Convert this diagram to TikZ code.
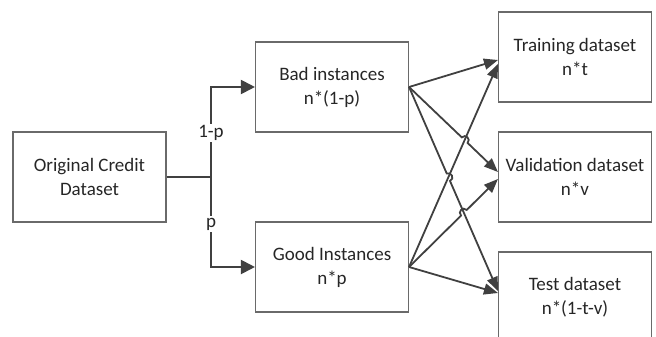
\documentclass[tikz,border=0pt]{standalone}
\usepackage{fontspec}
\setmainfont{Carlito}
\usetikzlibrary{arrows.meta,calc}
\definecolor{linegray}{HTML}{404040}
\definecolor{boxgray}{HTML}{6A6A6A}
\begin{document}
\begin{tikzpicture}[x=1pt,y=-1pt,
  box/.style={draw=boxgray, line width=1.1pt, minimum width=153pt, minimum height=90pt,
    align=center, inner sep=0pt, text=black!85, font=\fontsize{19}{24}\selectfont},
  link/.style={draw=linegray, line width=1.8pt, -{Triangle[length=14pt,width=11pt]}},
  fork/.style={draw=linegray, line width=2pt},
  lbl/.style={fill=white, inner sep=1.5pt, text=black!85, font=\fontsize{19}{24}\selectfont}]
\clip (0,0) rectangle (656,337);
% boxes
\node[box] (orig) at (89.5,177) {Original Credit\\Dataset};
\node[box] (bad) at (332,87) {Bad instances\\n*(1-p)};
\node[box] (good) at (332,267) {Good Instances\\n*p};
\node[box] (train) at (575,57) {Training dataset\\n*t};
\node[box] (valid) at (575,177) {Validation dataset\\n*v};
\node[box] (test) at (575,297) {Test dataset\\n*(1-t-v)};
% split of the original set
\coordinate (split) at (211,177);
\draw[fork] (orig.east) -- (split);
\draw[fork, -{Triangle[length=14pt,width=14pt]}] (split) |- (bad.west);
\draw[fork, -{Triangle[length=14pt,width=14pt]}] (split) |- (good.west);
\node[lbl] (lone) at (211,133) {1-p};
\node[lbl] (lp) at (211,224) {p};
% end points of the links
\coordinate (badout) at (bad.east);
\coordinate (goodout) at (good.east);
\coordinate (trA) at ($(train.west)+(0,3)$);
\coordinate (trB) at ($(train.west)+(0,7)$);
\coordinate (vaA) at ($(valid.west)+(0,-5)$);
\coordinate (vaB) at ($(valid.west)+(0,2)$);
\coordinate (teA) at ($(test.west)+(0,-6)$);
\coordinate (teB) at ($(test.west)+(0,-4)$);
% crossings with a hop
\coordinate (hA) at (intersection of badout--vaA and goodout--trB);
\coordinate (hB) at (intersection of badout--teA and goodout--trB);
\coordinate (hC) at (intersection of goodout--vaB and badout--teA);
% links without hops
\draw[link] (badout) -- (trA);
\draw[link] (goodout) -- (trB);
\draw[link] (goodout) -- (teB);
% links with hops
\draw[link] (badout) -- ($(hA)!4pt!(badout)$)
  .. controls ($($(hA)!4pt!(badout)$)!5.3pt!90:(hA)$) and ($($(hA)!4pt!(vaA)$)!5.3pt!-90:(hA)$)
  .. ($(hA)!4pt!(vaA)$) -- (vaA);
\draw[link] (badout) -- ($(hB)!4pt!(badout)$)
  .. controls ($($(hB)!4pt!(badout)$)!5.3pt!90:(hB)$) and ($($(hB)!4pt!(teA)$)!5.3pt!-90:(hB)$)
  .. ($(hB)!4pt!(teA)$) -- (teA);
\draw[link] (goodout) -- ($(hC)!4pt!(goodout)$)
  .. controls ($($(hC)!4pt!(goodout)$)!5.3pt!90:(hC)$) and ($($(hC)!4pt!(vaB)$)!5.3pt!-90:(hC)$)
  .. ($(hC)!4pt!(vaB)$) -- (vaB);
\end{tikzpicture}
\end{document}
